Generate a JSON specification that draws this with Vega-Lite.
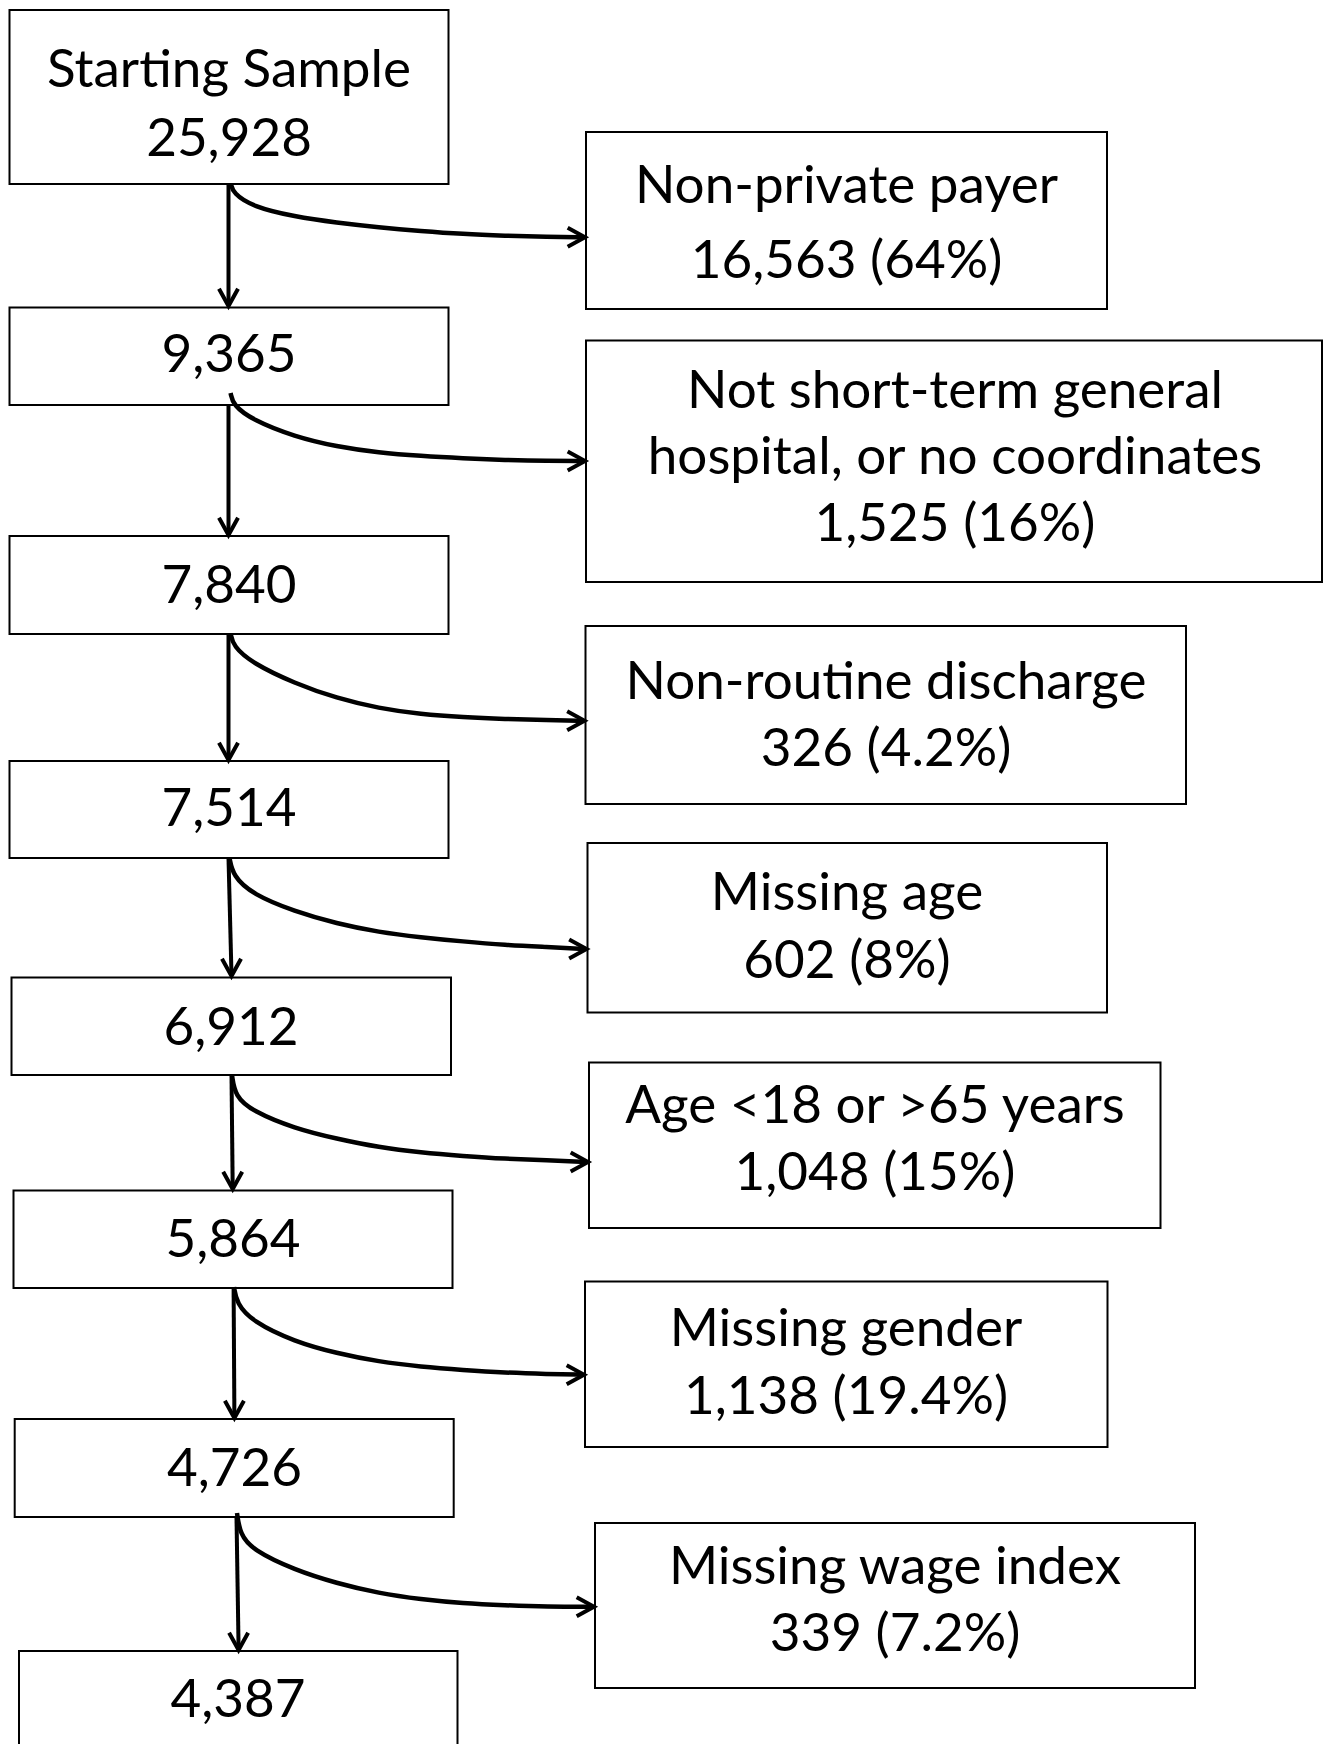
{
  "$schema": "https://vega.github.io/schema/vega-lite/v6.json",
  "width": 1323,
  "height": 1744,
  "autosize": {"type": "fit", "contains": "padding"},
  "padding": 0,
  "background": "white",
  "config": {"view": {"stroke": null}},
  "datasets": {
    "boxes": [
      {"id": "B1", "x": 9.5, "x2": 448.5, "y": 10, "y2": 184},
      {"id": "B2", "x": 9.5, "x2": 448.5, "y": 307.5, "y2": 405},
      {"id": "B3", "x": 9.5, "x2": 448.5, "y": 536, "y2": 634},
      {"id": "B4", "x": 9.5, "x2": 448.5, "y": 761, "y2": 858},
      {"id": "B5", "x": 11.5, "x2": 451, "y": 977.5, "y2": 1075},
      {"id": "B6", "x": 13.5, "x2": 452.5, "y": 1190.5, "y2": 1288},
      {"id": "B7", "x": 14.7, "x2": 453.7, "y": 1419, "y2": 1517},
      {"id": "B8", "x": 19, "x2": 457.5, "y": 1651, "y2": 1770},
      {"id": "R1", "x": 586, "x2": 1107, "y": 132, "y2": 309},
      {"id": "R2", "x": 586, "x2": 1322, "y": 340.5, "y2": 582},
      {"id": "R3", "x": 585.5, "x2": 1186, "y": 626, "y2": 804},
      {"id": "R4", "x": 587.5, "x2": 1107, "y": 843, "y2": 1012.5},
      {"id": "R5", "x": 589, "x2": 1160.5, "y": 1062.5, "y2": 1228},
      {"id": "R6", "x": 585, "x2": 1107.5, "y": 1281.5, "y2": 1447},
      {"id": "R7", "x": 595, "x2": 1195, "y": 1523, "y2": 1688}
    ],
    "vlines": [
      {"x": 228.5, "y": 184, "x2": 228.5, "y2": 305},
      {"x": 228.5, "y": 405, "x2": 228.5, "y2": 534},
      {"x": 228.5, "y": 634, "x2": 228.5, "y2": 759},
      {"x": 228.5, "y": 858, "x2": 231.5, "y2": 975},
      {"x": 231.5, "y": 1075, "x2": 232.7, "y2": 1188},
      {"x": 233.6, "y": 1288, "x2": 234.4, "y2": 1417},
      {"x": 236.5, "y": 1517, "x2": 238.6, "y2": 1649}
    ],
    "curves": [
      {"c": 1, "s": 0, "x": 231, "y": 184}, {"c": 1, "s": 1, "x": 233, "y": 193}, {"c": 1, "s": 2, "x": 252.5, "y": 206.7}, {"c": 1, "s": 3, "x": 294.6, "y": 216.7}, {"c": 1, "s": 4, "x": 336.7, "y": 222.7}, {"c": 1, "s": 5, "x": 378.8, "y": 227.3}, {"c": 1, "s": 6, "x": 420.9, "y": 231}, {"c": 1, "s": 7, "x": 463, "y": 234}, {"c": 1, "s": 8, "x": 505, "y": 235.7}, {"c": 1, "s": 9, "x": 547, "y": 237}, {"c": 1, "s": 10, "x": 584, "y": 237.3},
      {"c": 2, "s": 0, "x": 230.6, "y": 393}, {"c": 2, "s": 1, "x": 233, "y": 405}, {"c": 2, "s": 2, "x": 252.5, "y": 420}, {"c": 2, "s": 3, "x": 294.6, "y": 436.7}, {"c": 2, "s": 4, "x": 336.7, "y": 446.7}, {"c": 2, "s": 5, "x": 378.8, "y": 452.7}, {"c": 2, "s": 6, "x": 420.9, "y": 456}, {"c": 2, "s": 7, "x": 463, "y": 458.3}, {"c": 2, "s": 8, "x": 505, "y": 460}, {"c": 2, "s": 9, "x": 547, "y": 461}, {"c": 2, "s": 10, "x": 584, "y": 461},
      {"c": 3, "s": 0, "x": 230.6, "y": 633.3}, {"c": 3, "s": 1, "x": 233, "y": 646}, {"c": 3, "s": 2, "x": 252.5, "y": 663.3}, {"c": 3, "s": 3, "x": 294.6, "y": 683.3}, {"c": 3, "s": 4, "x": 336.7, "y": 698.3}, {"c": 3, "s": 5, "x": 378.8, "y": 708.3}, {"c": 3, "s": 6, "x": 420.9, "y": 714.3}, {"c": 3, "s": 7, "x": 463, "y": 717.3}, {"c": 3, "s": 8, "x": 505, "y": 719}, {"c": 3, "s": 9, "x": 547, "y": 720}, {"c": 3, "s": 10, "x": 583.5, "y": 720.8},
      {"c": 4, "s": 0, "x": 229.5, "y": 858}, {"c": 4, "s": 1, "x": 233, "y": 876}, {"c": 4, "s": 2, "x": 252.5, "y": 894.3}, {"c": 4, "s": 3, "x": 294.6, "y": 911.5}, {"c": 4, "s": 4, "x": 336.7, "y": 923.6}, {"c": 4, "s": 5, "x": 378.8, "y": 932.2}, {"c": 4, "s": 6, "x": 420.9, "y": 937.3}, {"c": 4, "s": 7, "x": 463, "y": 941.5}, {"c": 4, "s": 8, "x": 505, "y": 945}, {"c": 4, "s": 9, "x": 547, "y": 947}, {"c": 4, "s": 10, "x": 585.5, "y": 949},
      {"c": 5, "s": 0, "x": 232, "y": 1075}, {"c": 5, "s": 1, "x": 235, "y": 1096}, {"c": 5, "s": 2, "x": 252.5, "y": 1111.2}, {"c": 5, "s": 3, "x": 294.6, "y": 1128.5}, {"c": 5, "s": 4, "x": 336.7, "y": 1138.8}, {"c": 5, "s": 5, "x": 378.8, "y": 1147.4}, {"c": 5, "s": 6, "x": 420.9, "y": 1152.6}, {"c": 5, "s": 7, "x": 463, "y": 1156}, {"c": 5, "s": 8, "x": 505, "y": 1158.8}, {"c": 5, "s": 9, "x": 547, "y": 1160.2}, {"c": 5, "s": 10, "x": 587, "y": 1162},
      {"c": 6, "s": 0, "x": 234, "y": 1287}, {"c": 6, "s": 1, "x": 236.5, "y": 1303}, {"c": 6, "s": 2, "x": 252.5, "y": 1321.7}, {"c": 6, "s": 3, "x": 294.6, "y": 1341.7}, {"c": 6, "s": 4, "x": 336.7, "y": 1353.3}, {"c": 6, "s": 5, "x": 378.8, "y": 1361.7}, {"c": 6, "s": 6, "x": 420.9, "y": 1366.7}, {"c": 6, "s": 7, "x": 463, "y": 1370}, {"c": 6, "s": 8, "x": 505, "y": 1372.7}, {"c": 6, "s": 9, "x": 547, "y": 1374}, {"c": 6, "s": 10, "x": 583, "y": 1374.7},
      {"c": 7, "s": 0, "x": 237, "y": 1513}, {"c": 7, "s": 1, "x": 240, "y": 1534}, {"c": 7, "s": 2, "x": 252.5, "y": 1550}, {"c": 7, "s": 3, "x": 294.6, "y": 1570}, {"c": 7, "s": 4, "x": 336.7, "y": 1583.3}, {"c": 7, "s": 5, "x": 378.8, "y": 1593.3}, {"c": 7, "s": 6, "x": 420.9, "y": 1599.3}, {"c": 7, "s": 7, "x": 463, "y": 1603.3}, {"c": 7, "s": 8, "x": 505, "y": 1605.3}, {"c": 7, "s": 9, "x": 547, "y": 1606.7}, {"c": 7, "s": 10, "x": 593, "y": 1606.7}
    ],
    "heads": [
      {"dir": "down", "x": 228.5, "y": 306},
      {"dir": "down", "x": 228.5, "y": 535},
      {"dir": "down", "x": 228.5, "y": 760},
      {"dir": "down", "x": 231.5, "y": 976},
      {"dir": "down", "x": 232.7, "y": 1189},
      {"dir": "down", "x": 234.4, "y": 1418},
      {"dir": "down", "x": 238.6, "y": 1650},
      {"dir": "right", "x": 585, "y": 237.3},
      {"dir": "right", "x": 585, "y": 461},
      {"dir": "right", "x": 584.5, "y": 720.8},
      {"dir": "right", "x": 586.5, "y": 949},
      {"dir": "right", "x": 588, "y": 1162},
      {"dir": "right", "x": 584, "y": 1374.7},
      {"dir": "right", "x": 594, "y": 1606.7}
    ],
    "labels": [
      {"text": "Starting Sample", "x": 229, "y": 87},
      {"text": "25,928", "x": 229, "y": 156},
      {"text": "9,365", "x": 229, "y": 372},
      {"text": "7,840", "x": 229, "y": 603},
      {"text": "7,514", "x": 229, "y": 826},
      {"text": "6,912", "x": 231, "y": 1045},
      {"text": "5,864", "x": 233, "y": 1257},
      {"text": "4,726", "x": 234.5, "y": 1486},
      {"text": "4,387", "x": 238, "y": 1717},
      {"text": "Non-private payer", "x": 846.5, "y": 203},
      {"text": "16,563 (64%)", "x": 846.5, "y": 278},
      {"text": "Not short-term general", "x": 955, "y": 408},
      {"text": "hospital, or no coordinates", "x": 955, "y": 474},
      {"text": "1,525 (16%)", "x": 955, "y": 541},
      {"text": "Non-routine discharge", "x": 886, "y": 699},
      {"text": "326 (4.2%)", "x": 886, "y": 766},
      {"text": "Missing age", "x": 847, "y": 910},
      {"text": "602 (8%)", "x": 847, "y": 978},
      {"text": "Age <18 or >65 years", "x": 875, "y": 1123},
      {"text": "1,048 (15%)", "x": 875, "y": 1190},
      {"text": "Missing gender", "x": 846, "y": 1346},
      {"text": "1,138 (19.4%)", "x": 846, "y": 1414},
      {"text": "Missing wage index", "x": 895, "y": 1584},
      {"text": "339 (7.2%)", "x": 895, "y": 1651}
    ]
  },
  "layer": [
    {
      "data": {"name": "boxes"},
      "mark": {"type": "rect", "fill": "white", "stroke": "black", "strokeWidth": 2, "clip": true},
      "encoding": {
        "x": {"field": "x", "type": "quantitative", "scale": {"domain": [0, 1323], "nice": false, "zero": false}, "axis": null},
        "x2": {"field": "x2"},
        "y": {"field": "y", "type": "quantitative", "scale": {"domain": [0, 1744], "reverse": true, "nice": false, "zero": false}, "axis": null},
        "y2": {"field": "y2"}
      }
    },
    {
      "data": {"name": "vlines"},
      "mark": {"type": "rule", "color": "black", "strokeWidth": 4},
      "encoding": {
        "x": {"field": "x", "type": "quantitative", "axis": null},
        "x2": {"field": "x2"},
        "y": {"field": "y", "type": "quantitative", "axis": null},
        "y2": {"field": "y2"}
      }
    },
    {
      "data": {"name": "curves"},
      "mark": {"type": "line", "color": "black", "strokeWidth": 4.5, "interpolate": "basis"},
      "encoding": {
        "x": {"field": "x", "type": "quantitative", "axis": null},
        "y": {"field": "y", "type": "quantitative", "axis": null},
        "detail": {"field": "c", "type": "nominal"},
        "order": {"field": "s", "type": "quantitative"}
      }
    },
    {
      "data": {"name": "heads"},
      "mark": {"type": "point", "filled": false, "stroke": "black", "strokeWidth": 4, "size": 1200, "opacity": 1, "strokeJoin": "miter"},
      "encoding": {
        "x": {"field": "x", "type": "quantitative", "axis": null},
        "y": {"field": "y", "type": "quantitative", "axis": null},
        "shape": {"field": "dir", "type": "nominal", "scale": {"domain": ["down", "right"], "range": ["M-0.55,-1L0,0L0.55,-1", "M-1,-0.55L0,0L-1,0.55"]}, "legend": null}
      }
    },
    {
      "data": {"name": "labels"},
      "mark": {"type": "text", "font": "Lato", "fontSize": 53, "align": "center", "baseline": "alphabetic", "color": "black"},
      "encoding": {
        "x": {"field": "x", "type": "quantitative", "axis": null},
        "y": {"field": "y", "type": "quantitative", "axis": null},
        "text": {"field": "text", "type": "nominal"}
      }
    }
  ]
}
